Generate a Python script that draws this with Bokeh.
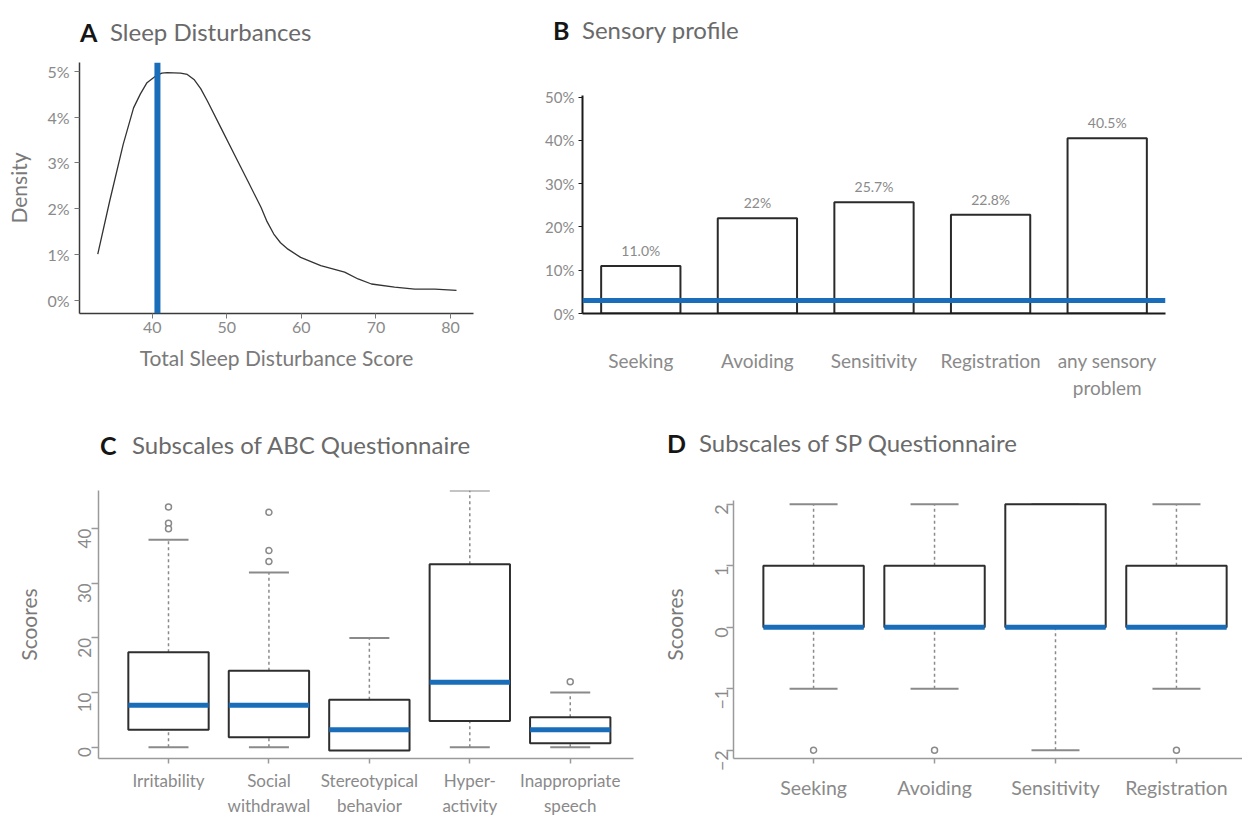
import math
import numpy as np
from bokeh.plotting import figure
from bokeh.models import Span, FixedTicker, PrintfTickFormatter, ColumnDataSource, Range1d, Div
from bokeh.layouts import column, row
from bokeh.embed import file_html
from bokeh.resources import INLINE
from bokeh.core.properties import value

# ---------------- data ----------------
# Panel A: density of total sleep disturbance score (density in %)
sleep_score = [32.7, 34.3, 36.1, 37.5, 38.4, 39.3, 40.6, 41.3, 42.0, 43.8, 44.7, 45.6, 46.5,
               47.4, 49.2, 51.0, 52.8, 54.6, 55.4, 56.3, 57.2, 58.2, 59.9, 62.6, 65.8,
               67.6, 69.4, 72.5, 75.2, 77.9, 80.8]
sleep_density = [1.01, 2.17, 3.40, 4.20, 4.50, 4.75, 4.91, 4.96, 4.97, 4.96, 4.93, 4.82, 4.62,
                 4.35, 3.77, 3.19, 2.61, 2.03, 1.72, 1.45, 1.26, 1.12, 0.94, 0.76, 0.62,
                 0.47, 0.36, 0.29, 0.25, 0.25, 0.22]
sleep_cutoff = 40.7
sleep_y_ticks = [0, 1, 2, 3, 4, 5]
sleep_x_ticks = [40, 50, 60, 70, 80]

# Panel B: sensory profile prevalence
sp_categories = ["Seeking", "Avoiding", "Sensitivity", "Registration", "any sensory\nproblem"]
sp_values = [11.0, 22.0, 25.7, 22.8, 40.5]
sp_labels = ["11.0%", "22%", "25.7%", "22.8%", "40.5%"]
sp_threshold = 3.0
sp_y_ticks = [0, 10, 20, 30, 40, 50]

# Panel C: ABC subscales boxplots
abc_categories = ["Irritability", "Social\nwithdrawal", "Stereotypical\nbehavior",
                  "Hyper-\nactivity", "Inappropriate\nspeech"]
abc_low = [0, 0, 0, 0, 0]
abc_q1 = [3.2, 1.8, -0.6, 4.8, 0.7]
abc_median = [7.7, 7.7, 3.2, 11.9, 3.2]
abc_q3 = [17.4, 14.0, 8.7, 33.5, 5.5]
abc_high = [38, 32, 20, 47, 10]
abc_outlier_group = [1, 1, 1, 2, 2, 2, 5]
abc_outlier_value = [44, 41, 40, 43, 36, 34, 12]
abc_y_ticks = [0, 10, 20, 30, 40]

# Panel D: SP subscales boxplots
spq_categories = ["Seeking", "Avoiding", "Sensitivity", "Registration"]
spq_low = [-1, -1, -2, -1]
spq_q1 = [0, 0, 0, 0]
spq_median = [0, 0, 0, 0]
spq_q3 = [1, 1, 2, 1]
spq_high = [2, 2, 2, 2]
spq_outlier_group = [1, 2, 4]
spq_outlier_value = [-2, -2, -2]
spq_y_ticks = [-2, -1, 0, 1, 2]

titles = [("A", "Sleep Disturbances"), ("B", "Sensory profile"),
          ("C", "Subscales of ABC Questionnaire"), ("D", "Subscales of SP Questionnaire")]

# ---------------- style ----------------
FONT = "Lato"
BLUE = "#1a6db8"
TICK_GREY = "#8a8a8a"
LABEL_GREY = "#7a7a7a"
TITLE_GREY = "#6a6a6a"


def base_fig(w, h, left, right, top, bottom, xr, yr):
    p = figure(width=w, height=h, x_range=Range1d(*xr), y_range=Range1d(*yr),
               output_backend="svg", toolbar_location=None, title=None,
               min_border_left=left, min_border_right=right,
               min_border_top=top, min_border_bottom=bottom)
    p.outline_line_color = None
    p.xgrid.visible = False
    p.ygrid.visible = False
    p.background_fill_color = "white"
    p.border_fill_color = "white"
    for ax in (p.xaxis[0], p.yaxis[0]):
        ax.minor_tick_line_color = None
        ax.major_label_text_font = FONT
        ax.major_label_text_color = TICK_GREY
        ax.axis_label_text_font = FONT
        ax.axis_label_text_color = LABEL_GREY
        ax.axis_label_text_font_style = "normal"
        ax.major_tick_in = 0
    return p


def title_div(letter, text, width, letter_x, text_x, center_y, height=50):
    top = center_y - 16
    html = (
        f'<div style="position:relative;width:{width}px;height:{height}px;'
        f'font-family:Lato;white-space:nowrap;">'
        f'<span style="position:absolute;left:{letter_x}px;top:{top}px;line-height:32px;'
        f'font-size:25px;font-weight:bold;color:#151515;">{letter}</span>'
        f'<span style="position:absolute;left:{text_x}px;top:{top}px;line-height:32px;'
        f'font-size:24px;color:{TITLE_GREY};">{text}</span></div>'
    )
    return Div(text=html, width=width, height=height, margin=0)


# ---------------- Panel A ----------------
pA = base_fig(540, 360, 79, 67, 12, 97, (30.25, 83.08), (-0.283, 5.19))
pA.line(sleep_score, sleep_density, line_color="#333333", line_width=1.3)
pA.add_layout(Span(location=sleep_cutoff, dimension="height", line_color=BLUE, line_width=6))
pA.xaxis.ticker = FixedTicker(ticks=sleep_x_ticks)
pA.yaxis.ticker = FixedTicker(ticks=sleep_y_ticks)
pA.yaxis.formatter = PrintfTickFormatter(format="%d%%")
for ax in (pA.xaxis[0], pA.yaxis[0]):
    ax.axis_line_color = "#3a3a3a"
    ax.axis_line_width = 1.5
    ax.major_tick_line_color = "#777777"
    ax.major_tick_out = 5
    ax.major_label_text_font_size = "16px"
    ax.axis_label_text_font_size = "21px"
pA.xaxis.axis_label = "Total Sleep Disturbance Score"
pA.xaxis.major_label_standoff = 3
pA.xaxis.axis_label_standoff = 9
pA.yaxis.axis_label = "Density"
pA.yaxis.major_label_standoff = 5
pA.yaxis.axis_label_standoff = 13

# ---------------- Panel B ----------------
pB = base_fig(702, 360, 42, 77, 12, 97, (0.5, 5.5), (0, 58.02))
sp_x = list(range(1, len(sp_categories) + 1))
srcB = ColumnDataSource(dict(x=sp_x, top=sp_values, label=sp_labels))
pB.vbar(x="x", top="top", bottom=0, width=0.68, source=srcB,
        fill_color="white", line_color="#2a2a2a", line_width=2)
pB.text(x="x", y="top", text="label", source=srcB, y_offset=-7,
        text_font=value(FONT), text_font_size="14px", text_color="#8a8a8a",
        text_align="center", text_baseline="bottom")
pB.add_layout(Span(location=sp_threshold, dimension="width", line_color=BLUE, line_width=5))
pB.xaxis.ticker = FixedTicker(ticks=sp_x)
pB.xaxis.major_label_overrides = {i + 1: c for i, c in enumerate(sp_categories)}
pB.yaxis.ticker = FixedTicker(ticks=sp_y_ticks)
pB.yaxis.formatter = PrintfTickFormatter(format="%d%%")
pB.yaxis.bounds = (0, 50.4)
for ax in (pB.xaxis[0], pB.yaxis[0]):
    ax.axis_line_color = "#1a1a1a"
    ax.axis_line_width = 2
    ax.major_tick_line_color = "#1a1a1a"
pB.xaxis.major_tick_out = 0
pB.xaxis.major_label_standoff = 35
pB.xaxis.major_label_text_font_size = "19px"
pB.yaxis.major_tick_out = 4
pB.yaxis.major_label_standoff = 4
pB.yaxis.major_label_text_font_size = "15px"


# ---------------- box plot helper ----------------
def boxplot(p, n, low, q1, med, q3, high, og, ov, box_w, cap_px):
    xs = np.arange(1, n + 1)
    half = box_w / 2.0
    p.segment(x0=xs, y0=q3, x1=xs, y1=high, line_color="#8a8a8a", line_width=1.5, line_dash="3 3")
    p.segment(x0=xs, y0=low, x1=xs, y1=q1, line_color="#8a8a8a", line_width=1.5, line_dash="3 3")
    p.scatter(x=xs, y=high, marker="dash", size=cap_px, line_color="#8a8a8a", line_width=2)
    p.scatter(x=xs, y=low, marker="dash", size=cap_px, line_color="#8a8a8a", line_width=2)
    p.vbar(x=xs, width=box_w, bottom=q1, top=q3, fill_color="white",
           line_color="#2e2e2e", line_width=2)
    p.segment(x0=xs - half, y0=med, x1=xs + half, y1=med, line_color=BLUE, line_width=5)
    p.scatter(x=og, y=ov, marker="circle", size=6, fill_color="white",
              line_color="#8a8a8a", line_width=1.5)
    return xs


def style_box_axes(p, cats, tick_font, ytick_font, ystand, xstand, ylab_stand):
    p.xaxis.ticker = FixedTicker(ticks=list(range(1, len(cats) + 1)))
    p.xaxis.major_label_overrides = {i + 1: c for i, c in enumerate(cats)}
    for ax in (p.xaxis[0], p.yaxis[0]):
        ax.axis_line_color = "#9a9a9a"
        ax.axis_line_width = 1.5
        ax.major_tick_line_color = "#9a9a9a"
        ax.major_tick_line_width = 1.5
    p.xaxis.major_tick_out = 5
    p.xaxis.major_label_standoff = xstand
    p.xaxis.major_label_text_font_size = tick_font
    p.yaxis.major_tick_out = 7
    p.yaxis.major_label_standoff = ystand
    p.yaxis.major_label_text_font_size = ytick_font
    p.yaxis.major_label_orientation = math.pi / 2
    p.yaxis.axis_label = "Scoores"
    p.yaxis.axis_label_text_font_size = "21px"
    p.yaxis.axis_label_standoff = ylab_stand


# ---------------- Panel C ----------------
pC = base_fig(640, 360, 98, 7, 30, 62, (0.303, 5.63), (-2.07, 47.0))
boxplot(pC, len(abc_categories), abc_low, abc_q1, abc_median, abc_q3, abc_high,
        abc_outlier_group, abc_outlier_value, 0.8, 40)
style_box_axes(pC, abc_categories, "17px", "17px", 7, 6, 28)
pC.yaxis.ticker = FixedTicker(ticks=abc_y_ticks)

# ---------------- Panel D ----------------
pD = base_fig(602, 360, 93, 0, 30, 62, (0.338, 4.546), (-2.135, 2.223))
boxplot(pD, len(spq_categories), spq_low, spq_q1, spq_median, spq_q3, spq_high,
        spq_outlier_group, spq_outlier_value, 0.83, 48)
style_box_axes(pD, spq_categories, "19.5px", "18px", 5, 12, 19)
pD.yaxis.ticker = FixedTicker(ticks=spq_y_ticks)
pD.yaxis.bounds = (-2.135, 2.065)

# ---------------- titles ----------------
dA = title_div(titles[0][0], titles[0][1], 540, 80, 110, 32)
dB = title_div(titles[1][0], titles[1][1], 702, 13, 42, 30)
dC = title_div(titles[2][0], titles[2][1], 640, 100, 132, 35)
dD = title_div(titles[3][0], titles[3][1], 602, 27, 59, 33)

layout = column(row(dA, dB), row(pA, pB), row(dC, dD), row(pC, pD))
open("out.html", "w").write(file_html(layout, INLINE))
